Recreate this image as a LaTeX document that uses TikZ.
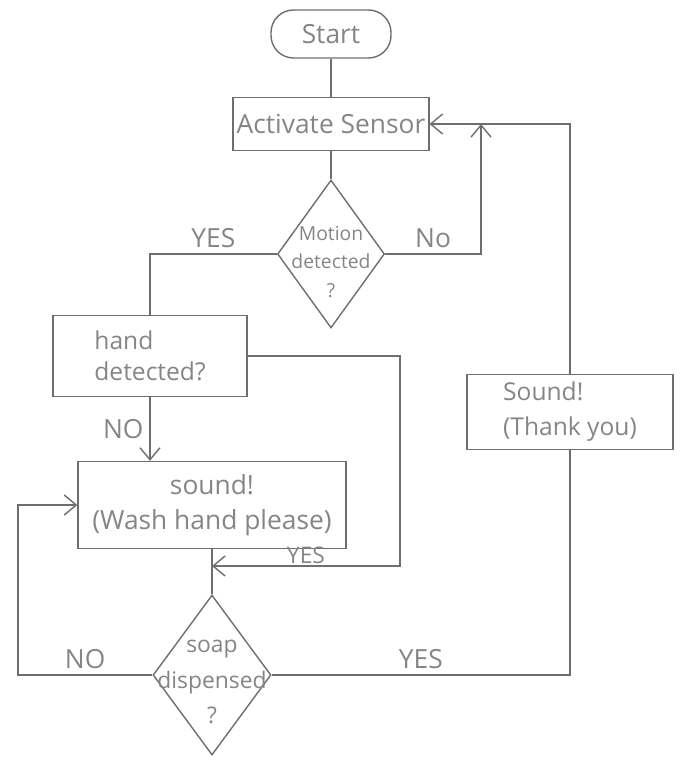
\documentclass[tikz,border=0pt]{standalone}
\usepackage{fontspec}
\setmainfont{Open Sans}
\usetikzlibrary{arrows.meta,shapes.geometric,positioning}
\usepackage{xcolor}
\definecolor{pencilGray}{HTML}{6E6E6E}
\definecolor{pencilText}{HTML}{858585}

\begin{document}
\begin{tikzpicture}[x=0.02cm,y=-0.02cm,>={Straight Barb[length=2.4mm,width=4mm]}]
  \tikzstyle{flowline}=[draw=pencilGray,line width=0.8pt]
  \tikzstyle{boxnode}=[draw=pencilGray,line width=0.8pt,text=pencilText,font=\fontsize{15}{20}\selectfont,inner sep=2pt]
  \tikzstyle{decision}=[draw=pencilGray,line width=0.8pt,diamond,inner sep=0pt]
  \tikzstyle{decisiontext}=[text=pencilText,align=center,inner sep=0pt]
  \tikzstyle{answer}=[text=pencilText,font=\fontsize{15}{17}\selectfont]
  \useasboundingbox (0,0) rectangle (696,766);
  \node[boxnode,rounded corners=0.45cm,minimum width=2.4cm,minimum height=0.96cm] (start) at (331,34) {Start};
  \node[boxnode,minimum width=3.82cm,minimum height=1.06cm] (sensor) at (331,124) {Activate Sensor};
  \node[decision,minimum width=2.14cm,minimum height=2.96cm] (motion) at (331,254) {};
  \node[decisiontext,font=\fontsize{11}{16}\selectfont] (motiontext) at (331,262) {Motion\\detected\\?};
  \node[boxnode,align=left,minimum width=3.88cm,minimum height=1.62cm,font=\fontsize{14}{18}\selectfont] (hand) at (150,356) {hand\\detected?};
  \node[boxnode,align=center,minimum width=5.36cm,minimum height=1.74cm] (wash) at (212,505) {sound!\\(Wash hand please)};
  \node[decision,minimum width=2.36cm,minimum height=3.2cm] (soap) at (212,675) {};
  \node[decisiontext,font=\fontsize{13}{20}\selectfont] (soaptext) at (212,682) {soap\\dispensed\\?};
  \node[boxnode,align=left,minimum width=4.12cm,minimum height=1.5cm,font=\fontsize{14}{20}\selectfont] (thank) at (570,412) {Sound!\\(Thank you)};
  \coordinate (nojoin) at (481,124);
  \coordinate (yescorner) at (400,566);
  \coordinate (merge) at (212,566);
  \coordinate (nocorner) at (18,505);
  % main column
  \draw[flowline] (start) -- (sensor);
  \draw[flowline] (sensor) -- (motion);
  \draw[flowline] (motion.west) -| node[answer,pos=.25,above]{YES} (hand.north);
  \draw[flowline,->] (motion.east) -| node[answer,pos=.25,above]{No} (nojoin);
  \draw[flowline,->] (thank.north) |- (sensor.east);
  \draw[flowline,->] (hand.south) -- node[answer,left]{NO} (hand.south |- wash.north);
  \draw[flowline,->] (hand.east) -| (yescorner) -- node[answer,above,inner sep=1pt,font=\fontsize{13}{15}\selectfont]{YES} (merge);
  \draw[flowline] (wash.south) -- (soap.north);
  \draw[flowline,->] (soap.west) -| node[answer,pos=.25,above]{NO} (nocorner) -- (wash.west);
  \draw[flowline] (soap.east) -| node[answer,pos=.25,above]{YES} (thank.south);
\end{tikzpicture}
\end{document}
